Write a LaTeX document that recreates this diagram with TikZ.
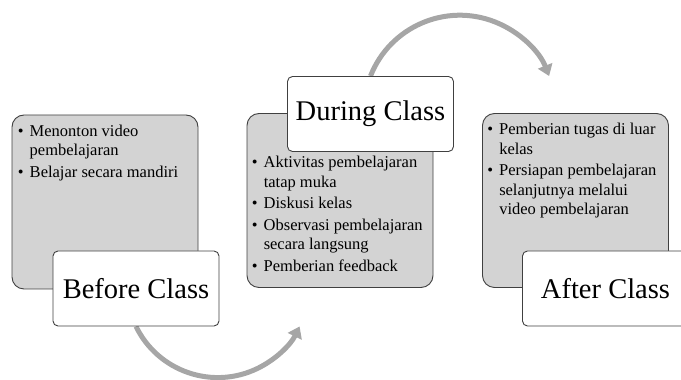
\documentclass[tikz,border=0pt]{standalone}
\usepackage{fontspec}
\setmainfont{Liberation Serif}
\usetikzlibrary{arrows.meta,backgrounds}
\definecolor{boxgray}{HTML}{D3D3D3}
\definecolor{edgegray}{HTML}{404040}
\definecolor{arcgray}{HTML}{A6A6A6}
\tikzset{
  graybox/.style={draw=edgegray,fill=boxgray,line width=0.9pt,rounded corners=12pt,minimum width=186pt,minimum height=174pt,inner sep=0pt},
  titlebox/.style={draw=edgegray,fill=white,line width=0.9pt,rounded corners=5pt,minimum width=166pt,minimum height=75pt,inner sep=0pt,font=\fontsize{28.5}{34}\selectfont},
  itemtext/.style={align=left,inner sep=0pt,font=\fontsize{16.5}{19.5}\selectfont},
  flowarc/.style={draw=arcgray,line width=5pt,-{Triangle[width=15pt,length=11pt]}}
}
\newcommand{\bul}{\makebox[12pt][l]{\textbullet}}
\newcommand{\ind}{\hspace*{12pt}}
\begin{document}
\begin{tikzpicture}[x=1pt,y=1pt]
                \useasboundingbox (0,0) rectangle (681,380);
                \node[graybox] (beforebox) at (105,178) {};
                \node[titlebox] (before) at (136,91.5) {Before Class};
                \node[graybox] (duringbox) at (340,179.5) {};
                \node[titlebox] (during) at (370.5,266) {During Class};
                \node[graybox] (afterbox) at (575.5,179.5) {};
                \node[titlebox] (after) at (605.5,91.5) {After Class};
                \node[itemtext,anchor=north west] (beforelist) at ([shift={(6,-10)}]beforebox.north west)
                    {\bul Menonton video\\ \ind pembelajaran\\[2pt] \bul Belajar secara mandiri};
                \node[itemtext,anchor=north west] (duringlist) at ([shift={(5,-43)}]duringbox.north west)
                    {\bul Aktivitas pembelajaran\\ \ind tatap muka\\[2pt] \bul Diskusi kelas\\[2pt] \bul Observasi pembelajaran\\ \ind secara langsung\\[2pt] \bul Pemberian feedback};
                \node[itemtext,anchor=north west] (afterlist) at ([shift={(5,-10)}]afterbox.north west)
                    {\bul Pemberian tugas di luar\\ \ind kelas\\[2pt] \bul Persiapan pembelajaran\\ \ind selanjutnya melalui\\ \ind video pembelajaran};
                \begin{scope}[on background layer]
                    \draw[flowarc] (before.south) arc[start angle=206,end angle=334,radius=91];
                    \draw[flowarc] (during.north) arc[start angle=158.5,end angle=21.5,radius=96];
                \end{scope}
\end{tikzpicture}
\end{document}
